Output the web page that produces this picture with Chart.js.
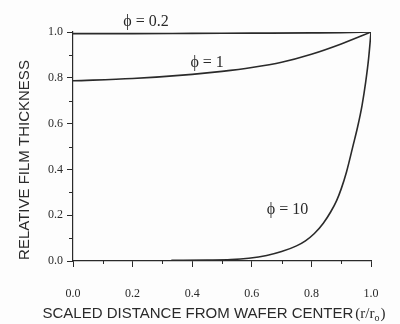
<!DOCTYPE html>
<html>
<head>
<meta charset="utf-8">
<script src="https://cdn.jsdelivr.net/npm/chart.js@4"></script>
<style>
  html, body { margin: 0; padding: 0; background: #fdfdfd; }
  #wrap { width: 400px; height: 324px; }
</style>
</head>
<body>
<div id="wrap"><canvas id="chart"></canvas></div>
<script>
// values
const phi02X = [0, 0.2, 0.4, 0.6, 0.8, 0.9, 1.0];
const phi02Y = [0.993, 0.993, 0.994, 0.995, 0.996, 0.997, 1.0];

const phi1X = [0, 0.2, 0.4, 0.5, 0.6, 0.7, 0.8, 0.9, 1.0];
const phi1Y = [0.787, 0.797, 0.815, 0.828, 0.845, 0.868, 0.903, 0.948, 1.0];

const phi10X = [0.33, 0.45, 0.53, 0.59, 0.65, 0.7, 0.75, 0.78, 0.81, 0.84, 0.865, 0.885, 0.9, 0.918, 0.94, 0.955, 0.97, 0.982, 0.992, 1.0];
const phi10Y = [0.003, 0.004, 0.006, 0.012, 0.024, 0.041, 0.066, 0.088, 0.12, 0.165, 0.215, 0.265, 0.315, 0.39, 0.505, 0.585, 0.68, 0.78, 0.885, 1.0];

const xTicks = [0, 0.2, 0.4, 0.6, 0.8, 1.0];
const yTicks = [0, 0.2, 0.4, 0.6, 0.8, 1.0];

const curveLabels = ['\u03d5 = 0.2', '\u03d5 = 1', '\u03d5 = 10'];

const ink = '#2a2a2a';

function toPoints(xs, ys) {
  return xs.map((x, i) => ({ x: x, y: ys[i] }));
}

function lineSet(xs, ys) {
  return {
    data: toPoints(xs, ys),
    borderColor: ink,
    borderWidth: 1.6,
    pointRadius: 0,
    showLine: true,
    fill: false,
    cubicInterpolationMode: 'monotone'
  };
}

// minor ticks, curve labels and the axis titles
const extras = {
  id: 'extras',
  afterDraw(chart) {
    const ctx = chart.ctx;
    const xs = chart.scales.x;
    const ys = chart.scales.y;
    ctx.save();
    ctx.strokeStyle = ink;
    ctx.lineWidth = 1;
    // minor ticks
    for (let i = 1; i < 10; i += 2) {
      const v = i / 10;
      const px = Math.round(xs.getPixelForValue(v)) + 0.5;
      ctx.beginPath();
      ctx.moveTo(px, ys.bottom);
      ctx.lineTo(px, ys.bottom + 3);
      ctx.stroke();
      const py = Math.round(ys.getPixelForValue(v)) + 0.5;
      ctx.beginPath();
      ctx.moveTo(xs.left, py);
      ctx.lineTo(xs.left - 4, py);
      ctx.stroke();
    }
    // curve labels
    ctx.fillStyle = ink;
    ctx.font = '16px "Liberation Serif"';
    ctx.textAlign = 'center';
    ctx.textBaseline = 'middle';
    const spots = [[0.245, 1.044], [0.45, 0.865], [0.72, 0.223]];
    curveLabels.forEach((t, i) => {
      ctx.fillText(t, xs.getPixelForValue(spots[i][0]), ys.getPixelForValue(spots[i][1]));
    });
    // y title
    ctx.save();
    ctx.translate(25, 160);
    ctx.rotate(-Math.PI / 2);
    ctx.font = '15px "Liberation Sans"';
    ctx.fillText('RELATIVE FILM THICKNESS', 0, 0);
    ctx.restore();
    // x title: sans part + serif (r/r0)
    const main = 'SCALED DISTANCE FROM WAFER CENTER';
    ctx.font = '15px "Liberation Sans"';
    const w1 = ctx.measureText(main).width;
    ctx.font = '15px "Liberation Serif"';
    const w2 = ctx.measureText('(r/r').width;
    ctx.font = '10px "Liberation Serif"';
    const w3 = ctx.measureText('o').width;
    ctx.font = '15px "Liberation Serif"';
    const w4 = ctx.measureText(')').width;
    const total = w1 + 2 + w2 + w3 + 1 + w4;
    let x = 214 - total / 2;
    const y = 318;
    ctx.textAlign = 'left';
    ctx.textBaseline = 'alphabetic';
    ctx.font = '15px "Liberation Sans"';
    ctx.fillText(main, x, y);
    x += w1 + 2;
    ctx.font = '15px "Liberation Serif"';
    ctx.fillText('(r/r', x, y);
    x += w2;
    ctx.font = '10px "Liberation Serif"';
    ctx.fillText('o', x, y + 3);
    x += w3 + 1;
    ctx.font = '15px "Liberation Serif"';
    ctx.fillText(')', x, y);
    ctx.restore();
  }
};

new Chart(document.getElementById('chart'), {
  type: 'scatter',
  data: {
    datasets: [lineSet(phi02X, phi02Y), lineSet(phi1X, phi1Y), lineSet(phi10X, phi10Y)]
  },
  options: {
    responsive: true,
    maintainAspectRatio: false,
    animation: false,
    events: [],
    layout: { padding: { left: 0, top: 32, right: 29, bottom: 0 } },
    plugins: {
      legend: { display: false },
      tooltip: { enabled: false }
    },
    scales: {
      x: {
        type: 'linear',
        min: 0,
        max: 1,
        afterFit: (s) => { s.height = 63; },
        afterBuildTicks: (s) => { s.ticks = xTicks.map(v => ({ value: v })); },
        ticks: {
          color: ink,
          font: { family: 'Liberation Serif', size: 12 },
          padding: 20,
          callback: (v) => v.toFixed(1)
        },
        grid: { display: true, drawOnChartArea: false, tickLength: 6, color: ink },
        border: { display: true, color: ink, width: 1.2 }
      },
      y: {
        type: 'linear',
        min: 0,
        max: 1,
        afterFit: (s) => { s.width = 73; },
        afterBuildTicks: (s) => { s.ticks = yTicks.map(v => ({ value: v })); },
        ticks: {
          color: ink,
          font: { family: 'Liberation Serif', size: 12 },
          padding: 4,
          callback: (v) => v.toFixed(1)
        },
        grid: { display: true, drawOnChartArea: false, tickLength: 6, color: ink },
        border: { display: true, color: ink, width: 1.2 }
      }
    }
  },
  plugins: [extras]
});
</script>
</body>
</html>
